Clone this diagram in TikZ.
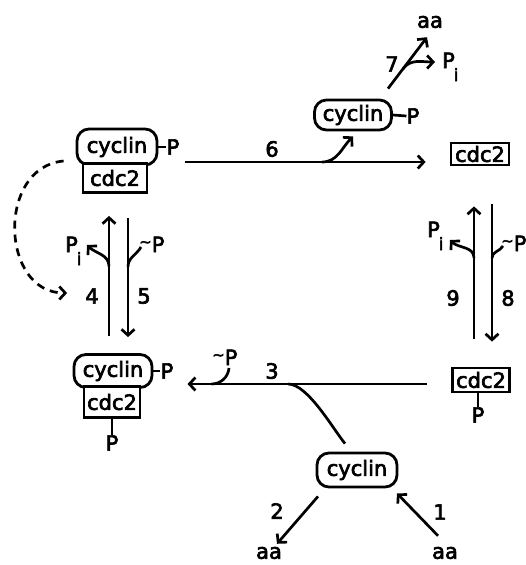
\documentclass[tikz,border=0pt]{standalone}
\usepackage{fontspec}
\setmainfont{DejaVu Sans}[FakeBold=3]
\usetikzlibrary{arrows.meta}
% P with the subscript i, and P with the small tilde
\newcommand{\pinorg}{P\kern-1pt\raisebox{-13pt}{\fontsize{17}{17}\selectfont i}}
\newcommand{\tilp}{{\fontsize{15}{15}\selectfont\raisebox{5pt}{\textasciitilde}}P}

\begin{document}
\begin{tikzpicture}[x=1pt, y=-1pt,
    every node/.style={font=\fontsize{21}{24}\selectfont, inner sep=0pt},
    prot/.style={draw, line width=2.8pt, rounded corners=12pt, minimum width=78pt, minimum height=32pt},
    kin/.style={draw, line width=2.8pt, fill=white, minimum width=58pt, minimum height=24pt},
    rxn/.style={line width=2.7pt, -{Straight Barb[length=6pt,width=13pt]}},
    side/.style={line width=2.7pt}]
    \useasboundingbox (0,0) rectangle (525,565);

    % Complexes on the left
    \node[prot, minimum width=80pt, minimum height=36pt] (cycTL) at (117,147) {cyclin};
    \node[kin, minimum width=64pt, minimum height=29pt] (cdcTL) at (115,178) {cdc2};
    \node (pTL) at (173,147) {P};
    \draw[side] (cycTL.east) -- (pTL.west);

    \node[prot, minimum height=33pt] (cycBL) at (113,371) {cyclin};
    \node[kin, minimum width=56pt, minimum height=31pt] (cdcBL) at (112,402) {cdc2};
    \node (pBL) at (167,371) {P};
    \node (pBL2) at (112,443) {P};
    \draw[side] (cycBL.east) -- (pBL.west);
    \draw[side] (cdcBL.south) -- (pBL2.north);

    % Free cdc2 on the right
    \node[kin, minimum height=22pt] (cdcTR) at (480,154) {cdc2};
    \node[kin, minimum width=57pt] (cdcBR) at (481,380) {cdc2};
    \node (pBR2) at (478,415) {P};
    \draw[side] (cdcBR.south -| pBR2) -- (pBR2.north);

    % Free cyclin
    \node[prot, minimum width=77pt, minimum height=30pt] (cycT) at (353,115) {cyclin};
    \node (pT) at (413,116) {P};
    \draw[side] (cycT.east) -- (pT.west);
    \node[prot, minimum width=80pt, minimum height=34pt] (cycB) at (357,470) {cyclin};

    % Amino acids, phosphates
    \node (aaT) at (430,22) {aa};
    \node (aaBL) at (269,553) {aa};
    \node (aaBR) at (445,553) {aa};
    \node[anchor=base west] (piT) at (442,68) {\pinorg};
    \node[anchor=base west] (piL) at (65,252) {\pinorg};
    \node[anchor=base west] (piR) at (427,237) {\pinorg};
    \node[anchor=base west] (tpL) at (139,252) {\tilp};
    \node[anchor=base west] (tpR) at (501,251) {\tilp};
    \node[anchor=base west] (tpB) at (212,365) {\tilp};

    % Step numbers
    \foreach \n/\x/\y in {1/440/512, 2/277/511, 3/272/371, 4/92/296, 5/144/296,
                          6/272/149, 7/392/64, 8/508/298, 9/453/298}
        \node (n\n) at (\x,\y) {\n};

    % 1 and 2: synthesis and breakdown of cyclin
    \draw[rxn] ([xshift=-7pt,yshift=11pt]aaBR.north) -- ([xshift=40pt,yshift=-5pt]cycB.south);
    \draw[rxn] ([xshift=-39pt,yshift=-8pt]cycB.south) -- ([xshift=8pt,yshift=3pt]aaBL.north);

    % 3: association with P-cdc2
    \draw[rxn] ([xshift=-24pt,yshift=-4pt]cdcBR.west) -- coordinate[pos=0.58] (b3c)
        coordinate[pos=0.9] (b3) ([xshift=14pt,yshift=-13pt]pBL.east);
    \draw[side] (b3c) to[out=0,in=129,looseness=0.6] ([xshift=-12pt,yshift=8pt]cycB.north);
    \draw[side] ([xshift=17pt,yshift=-3pt]tpB.base west) to[out=-95,in=0] (b3);

    % 4 and 5
    \draw[rxn] ([xshift=-4pt,yshift=17pt]cycBL.north) -- coordinate[pos=0.58] (b4)
        ([xshift=-6pt,yshift=-22pt]cdcTL.south);
    \draw[rxn] ([xshift=13pt,yshift=-24pt]cdcTL.south) -- coordinate[pos=0.41] (b5)
        ([xshift=15pt,yshift=16pt]cycBL.north);
    \draw[rxn] (b4) to[out=90,in=-45] ([xshift=22pt,yshift=7pt]piL.base west);
    \draw[side] ([xshift=2pt,yshift=5pt]tpL.base west) to[out=-120,in=90] (b5);
    \draw[rxn, dash pattern=on 8pt off 6pt] ([xshift=-12pt,yshift=-14pt]cycTL.west)
        to[out=185,in=180,looseness=1.3] ([xshift=-18pt,yshift=3pt]n4.west);

    % 6: release of cyclin-P
    \draw[rxn] ([xshift=5pt,yshift=-15pt]pTL.east) -- coordinate[pos=0.57] (b6)
        ([xshift=-24pt,yshift=-8pt]cdcTR.west);
    \draw[rxn] (b6) to[out=0,in=225] ([yshift=-5pt]cycT.south);

    % 7: degradation of cyclin-P
    \draw[rxn] ([xshift=35pt,yshift=10pt]cycT.north) -- coordinate[pos=0.38] (b7)
        ([xshift=-3pt,yshift=-9pt]aaT.south);
    \draw[rxn] (b7) to[out=55,in=180] ([xshift=-7pt,yshift=6pt]piT.base west);

    % 8 and 9
    \draw[rxn] ([xshift=-7pt,yshift=28pt]cdcBR.north) -- coordinate[pos=0.61] (b9)
        ([xshift=-6pt,yshift=-40pt]cdcTR.south);
    \draw[rxn] ([xshift=12pt,yshift=-38pt]cdcTR.south) -- coordinate[pos=0.39] (b8)
        ([xshift=11pt,yshift=25pt]cdcBR.north);
    \draw[rxn] (b9) to[out=90,in=-45] ([xshift=23pt,yshift=-3pt]piR.base west);
    \draw[side] ([xshift=2pt,yshift=5pt]tpR.base west) to[out=-120,in=90] (b8);
\end{tikzpicture}
\end{document}
